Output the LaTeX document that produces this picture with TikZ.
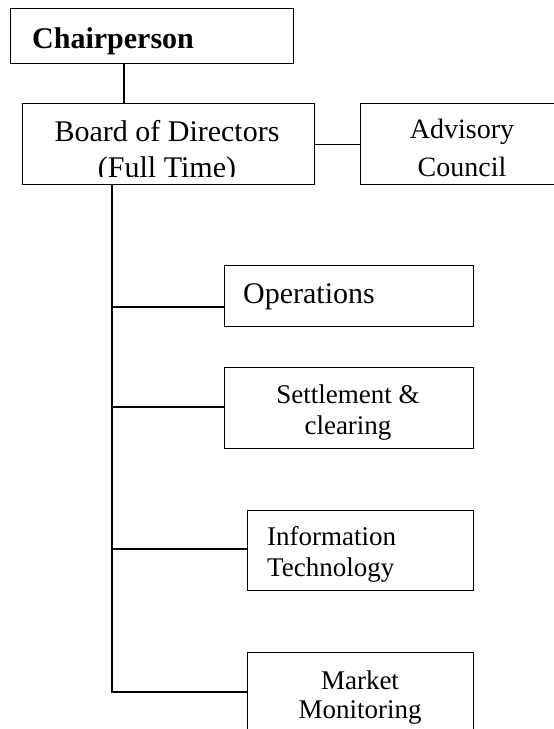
\documentclass[tikz,border=0pt]{standalone}
\usepackage{fontspec}
\setmainfont{Liberation Serif}
\begin{document}
\begin{tikzpicture}[x=1pt,y=-1pt,
  box/.style={draw, line width=1.3pt, inner sep=0pt, anchor=north west},
  txt/.style={inner sep=0pt, anchor=base},
  txtl/.style={inner sep=0pt, anchor=base west},
  conn/.style={line width=1.3pt}]
\useasboundingbox (0,0) rectangle (554,729);
% boxes
\node[box, minimum width=283pt, minimum height=55pt] (chair) at (10,8) {};
\node[box, minimum width=292pt, minimum height=81pt] (board) at (22,103) {};
\node[box, minimum width=200pt, minimum height=81pt] (adv) at (360,103) {};
\node[box, minimum width=249pt, minimum height=61pt] (ops) at (224,265) {};
\node[box, minimum width=249pt, minimum height=81pt] (set) at (224,367) {};
\node[box, minimum width=226pt, minimum height=80pt] (it) at (247,510) {};
\node[box, minimum width=226pt, minimum height=100pt] (mkt) at (247,652) {};
% texts
\node[txtl, font=\fontsize{30}{34}\selectfont\bfseries] (chairT) at (32,48) {Chairperson};
\begin{scope}
  \clip (board.north west) rectangle ([yshift=9pt]board.south east);
  \node[txt, font=\fontsize{30}{34}\selectfont] (boardT1) at (167,141) {Board of Directors};
  \node[txt, font=\fontsize{30}{34}\selectfont] (boardT2) at (167,177) {(Full Time)};
\end{scope}
\begin{scope}
  \clip (adv.north west) rectangle ([yshift=9pt]adv.south east);
  \node[txt, font=\fontsize{28}{32}\selectfont] (advT1) at (462,138) {Advisory};
  \node[txt, font=\fontsize{28}{32}\selectfont] (advT2) at (462,176) {Council};
\end{scope}
\node[txtl, font=\fontsize{30}{34}\selectfont] (opsT) at (243,303) {Operations};
\begin{scope}
  \clip (set.north west) rectangle ([yshift=8pt]set.south east);
  \node[txt, font=\fontsize{27}{31}\selectfont] (setT1) at (348,403) {Settlement \&};
  \node[txt, font=\fontsize{27}{31}\selectfont] (setT2) at (348,434) {clearing};
\end{scope}
\begin{scope}
  \clip (it.north west) rectangle ([yshift=10pt]it.south east);
  \node[txtl, font=\fontsize{27}{31}\selectfont] (itT1) at (267,545) {Information};
  \node[txtl, font=\fontsize{27}{31}\selectfont] (itT2) at (267,576) {Technology};
\end{scope}
\node[txt, font=\fontsize{27}{31}\selectfont] (mktT1) at (360,689) {Market};
\node[txt, font=\fontsize{27}{31}\selectfont] (mktT2) at (360,718) {Monitoring};
% connectors
\coordinate (c0) at (124,63);
\draw[conn] (c0) -- (c0 |- board.north);
\draw[conn] (board.east) -- (adv.west);
\coordinate (tt) at (112,184);
\coordinate (b1) at (112,307);
\coordinate (b2) at (112,407);
\coordinate (b3) at (112,549);
\coordinate (b4) at (112,692);
\draw[conn] (tt) -- (b4) -- (b4 -| mkt.west);
\draw[conn] (b1) -- (b1 -| ops.west);
\draw[conn] (b2) -- (b2 -| set.west);
\draw[conn] (b3) -- (b3 -| it.west);
\end{tikzpicture}
\end{document}
